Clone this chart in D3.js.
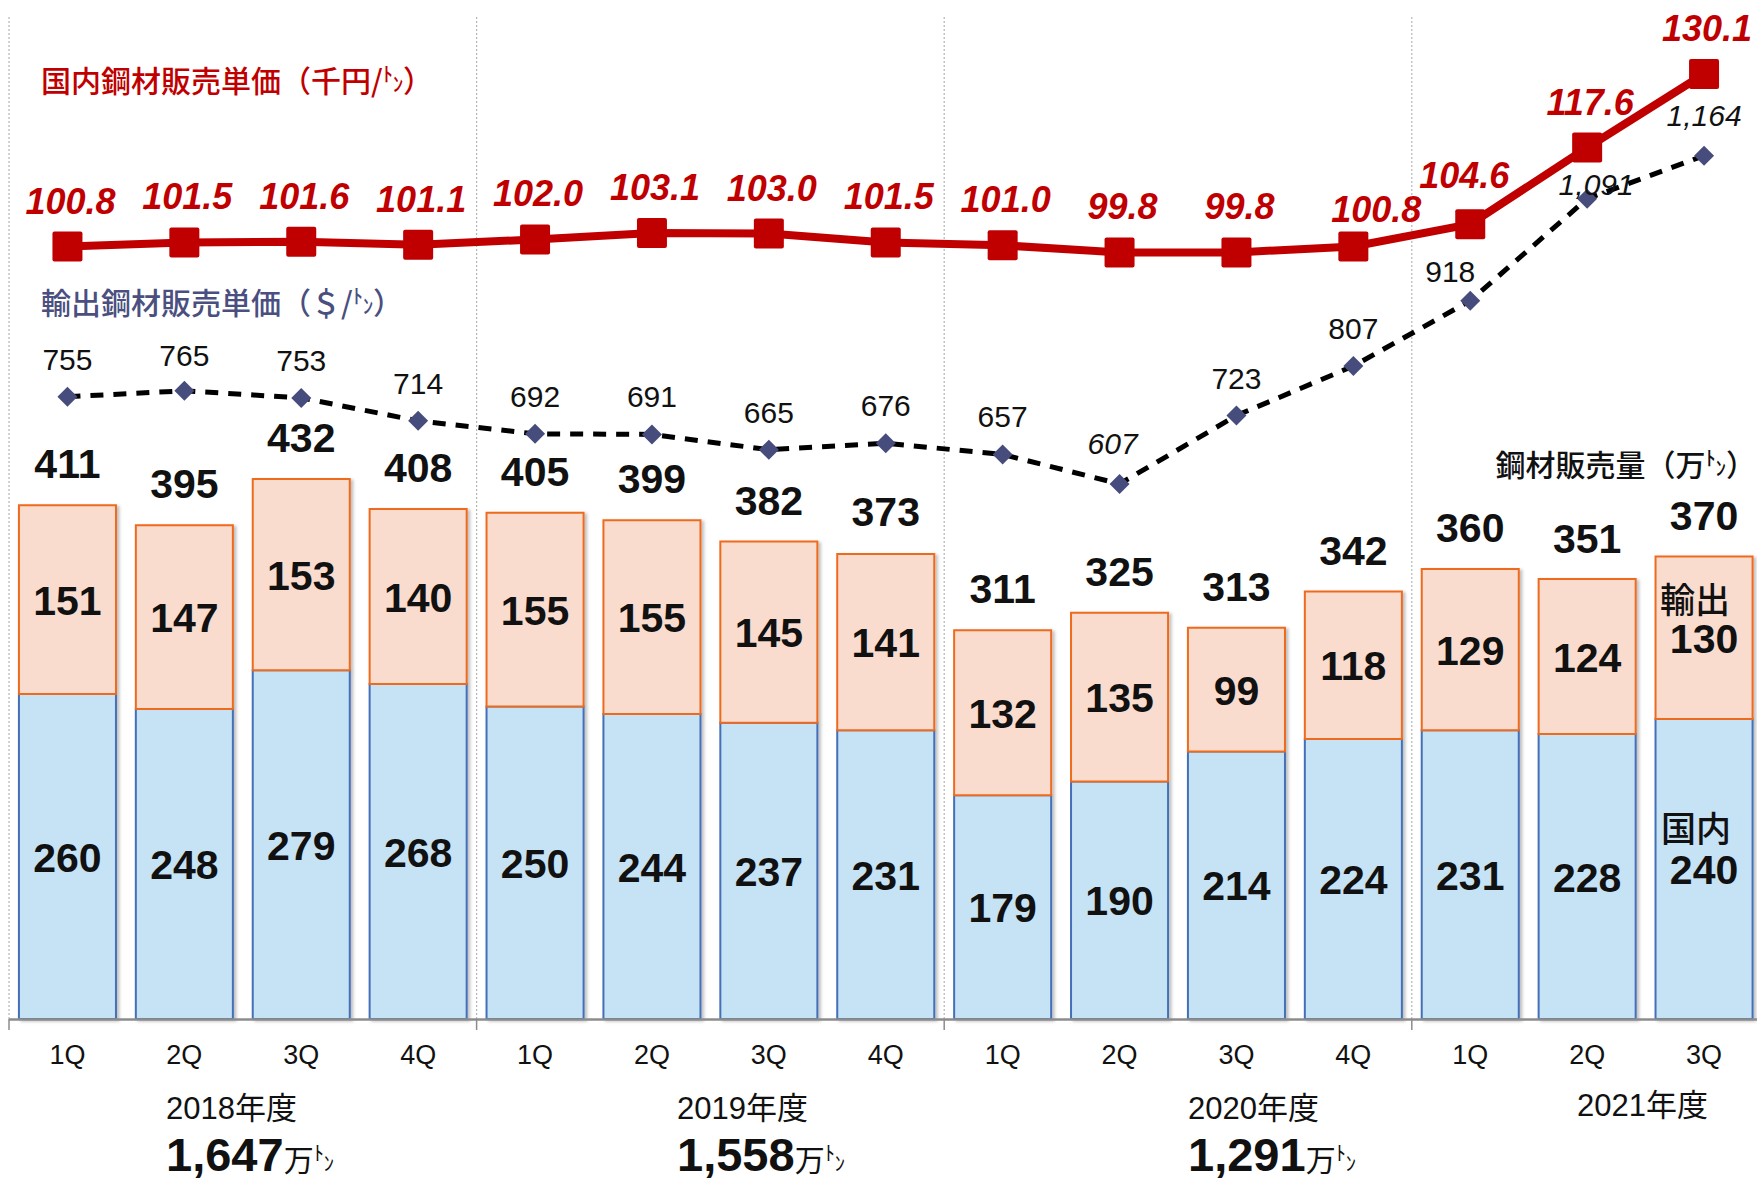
<!DOCTYPE html>
<html>
<head>
<meta charset="utf-8">
<script src="https://cdn.jsdelivr.net/npm/d3@7"></script>
<style>
  body { margin: 0; background: #fff; }
  svg { display: block; }
  .num { font-family: "Liberation Sans", Arial, "Noto Sans CJK JP", sans-serif; }
  .jp { font-family: "Noto Sans CJK JP", "Liberation Sans", sans-serif; }
</style>
</head>
<body>
<svg id="chart" width="1757" height="1180"></svg>
<script>
const quarters = ["1Q","2Q","3Q","4Q","1Q","2Q","3Q","4Q","1Q","2Q","3Q","4Q","1Q","2Q","3Q"];
const fiscalYears = ["2018年度", "2019年度", "2020年度", "2021年度"];
const yearTotals = [1647, 1558, 1291, null];

const domesticVol = [260, 248, 279, 268, 250, 244, 237, 231, 179, 190, 214, 224, 231, 228, 240];
const exportVol   = [151, 147, 153, 140, 155, 155, 145, 141, 132, 135, 99, 118, 129, 124, 130];
const totalVol    = [411, 395, 432, 408, 405, 399, 382, 373, 311, 325, 313, 342, 360, 351, 370];

const domesticPrice = [100.8, 101.5, 101.6, 101.1, 102.0, 103.1, 103.0, 101.5, 101.0, 99.8, 99.8, 100.8, 104.6, 117.6, 130.1];
const exportPrice   = [755, 765, 753, 714, 692, 691, 665, 676, 657, 607, 723, 807, 918, 1091, 1164];

const seriesNames = ["国内", "輸出"];

const svg = d3.select("#chart");
const idx = d3.range(quarters.length);

const x = d3.scaleBand().domain(idx).range([9, 9 + 15 * 116.9]).paddingInner(0.17).paddingOuter(0.085);
const cx = i => x(i) + x.bandwidth() / 2;
const step = x.step();
const xEdge = i => x(i) - x.paddingOuter() * step;   // left edge of slot i

const yBar = d3.scaleLinear().domain([0, 400]).range([1019, 519]);
const yRed = d3.scaleLinear().domain([100.8, 130.1]).range([246.5, 74]);
const yExp = d3.scaleLinear().domain([755, 1164]).range([396.7, 155.7]);

// drop shadow for bars
const defs = svg.append("defs");
const f = defs.append("filter").attr("id", "shadow").attr("x", "-10%").attr("y", "-10%").attr("width", "130%").attr("height", "130%");
f.append("feDropShadow").attr("dx", 2.5).attr("dy", 1.5).attr("stdDeviation", 1.5).attr("flood-color", "#000").attr("flood-opacity", 0.25);

// year separators (dotted)
const seps = [0, 4, 8, 12];
svg.selectAll(".sep").data(seps).join("line")
  .attr("x1", d => xEdge(d)).attr("x2", d => xEdge(d))
  .attr("y1", 17).attr("y2", 1019)
  .attr("stroke", "#b5b5b5").attr("stroke-width", 1.2).attr("stroke-dasharray", "2,2");

// bars
const barG = svg.append("g").attr("filter", "url(#shadow)");
barG.selectAll(".dom").data(idx).join("rect")
  .attr("x", i => x(i)).attr("width", x.bandwidth())
  .attr("y", i => yBar(domesticVol[i])).attr("height", i => yBar(0) - yBar(domesticVol[i]))
  .attr("fill", "#c6e2f5").attr("stroke", "#4470b8").attr("stroke-width", 2);
barG.selectAll(".exp").data(idx).join("rect")
  .attr("x", i => x(i)).attr("width", x.bandwidth())
  .attr("y", i => yBar(domesticVol[i] + exportVol[i])).attr("height", i => yBar(0) - yBar(exportVol[i]))
  .attr("fill", "#fadccf").attr("stroke", "#ee6a1f").attr("stroke-width", 2);

// axis
svg.append("line").attr("x1", 9).attr("x2", 1757).attr("y1", 1019.5).attr("y2", 1019.5)
  .attr("stroke", "#8c8c8c").attr("stroke-width", 2.5);
svg.selectAll(".tk").data(seps).join("line")
  .attr("x1", d => xEdge(d)).attr("x2", d => xEdge(d))
  .attr("y1", 1019).attr("y2", 1030)
  .attr("stroke", "#8c8c8c").attr("stroke-width", 1.5);

// quarter labels
svg.selectAll(".ql").data(idx).join("text").attr("class", "num")
  .attr("x", cx).attr("y", 1064).attr("text-anchor", "middle")
  .attr("font-size", 27).attr("fill", "#111").text(i => quarters[i]);

// small raised ﾄ + lowered ﾝ, ends back on the baseline
function addTon(sel, size) {
  sel.append("tspan").attr("font-size", size * 0.68).attr("dy", -size * 0.32).text("ﾄ");
  sel.append("tspan").attr("font-size", size * 0.68).attr("dy", size * 0.32).text("ﾝ");
  return sel;
}

// fiscal year labels
const yearLeft = [166, 677, 1188, 1577];
const yearBase = [1119, 1119, 1119, 1116];
fiscalYears.forEach((fy, k) => {
  svg.append("text").attr("class", "num").attr("x", yearLeft[k]).attr("y", yearBase[k])
    .attr("font-size", 31).attr("fill", "#111").text(fy);
  if (yearTotals[k] != null) {
    const t = svg.append("text").attr("class", "num").attr("x", yearLeft[k]).attr("y", 1171)
      .attr("fill", "#111");
    t.append("tspan").attr("font-size", 47).attr("font-weight", "bold").text(d3.format(",")(yearTotals[k]));
    t.append("tspan").attr("font-size", 30).text("万");
    addTon(t, 30);
  }
});

// bar labels
const lastI = quarters.length - 1;
svg.selectAll(".tl").data(idx).join("text").attr("class", "num")
  .attr("x", cx).attr("y", i => yBar(totalVol[i]) - 27).attr("text-anchor", "middle")
  .attr("font-size", 41).attr("font-weight", "bold").attr("fill", "#111").text(i => totalVol[i]);
svg.selectAll(".el").data(idx).join("text").attr("class", "num")
  .attr("x", cx).attr("y", i => yBar(domesticVol[i] + exportVol[i] / 2) + 15).attr("text-anchor", "middle")
  .attr("font-size", 41).attr("font-weight", "bold").attr("fill", "#111").text(i => exportVol[i]);
svg.selectAll(".dl").data(idx).join("text").attr("class", "num")
  .attr("x", cx).attr("y", i => yBar(domesticVol[i] / 2) + 15).attr("text-anchor", "middle")
  .attr("font-size", 41).attr("font-weight", "bold").attr("fill", "#111").text(i => domesticVol[i]);
// series names on last bar
svg.append("text").attr("class", "jp").attr("x", cx(lastI) - 9).attr("y", yBar(domesticVol[lastI] + exportVol[lastI] / 2) + 15 - 40)
  .attr("text-anchor", "middle").attr("font-size", 35).attr("font-weight", 500).attr("fill", "#111").text(seriesNames[1]);
svg.append("text").attr("class", "jp").attr("x", cx(lastI) - 8).attr("y", yBar(domesticVol[lastI] / 2) + 15 - 42)
  .attr("text-anchor", "middle").attr("font-size", 35).attr("font-weight", 500).attr("fill", "#111").text(seriesNames[0]);

// export price line (dashed)
const lineExp = d3.line().x(i => cx(i)).y(i => yExp(exportPrice[i]));
svg.append("path").datum(idx).attr("d", lineExp)
  .attr("fill", "none").attr("stroke", "#000").attr("stroke-width", 5).attr("stroke-dasharray", "13,10");
svg.selectAll(".dm").data(idx).join("path")
  .attr("d", d3.symbol(d3.symbolSquare, 200)())
  .attr("transform", i => `translate(${cx(i)},${yExp(exportPrice[i])}) rotate(45)`)
  .attr("fill", "#464c7c");

// domestic price line
const lineRed = d3.line().x(i => cx(i)).y(i => yRed(domesticPrice[i]));
svg.append("path").datum(idx).attr("d", lineRed)
  .attr("fill", "none").attr("stroke", "#c00000").attr("stroke-width", 8);
svg.selectAll(".sq").data(idx).join("rect")
  .attr("x", i => cx(i) - 15).attr("y", i => yRed(domesticPrice[i]) - 15)
  .attr("width", 30).attr("height", 30).attr("rx", 2).attr("fill", "#c00000");

// export price labels
const expItalic = new Set([9, 13, 14]);
const expOff = { 12: [-20, 19], 13: [9, 4], 9: [-7, 30], 14: [0, 30], 1: [0, 25] };
svg.selectAll(".epl").data(idx).join("text").attr("class", "num")
  .attr("x", i => cx(i) + (expOff[i] ? expOff[i][0] : 0))
  .attr("y", i => yExp(exportPrice[i]) - (expOff[i] ? expOff[i][1] : 27))
  .attr("text-anchor", "middle").attr("font-size", 30)
  .attr("font-style", i => expItalic.has(i) ? "italic" : "normal")
  .attr("fill", "#111").text(i => d3.format(",")(exportPrice[i]));

// domestic price labels
const redOff = { 11: [20, 25], 12: [-9, 36] };
svg.selectAll(".rpl").data(idx).join("text").attr("class", "num")
  .attr("x", i => cx(i) + 3 + (redOff[i] ? redOff[i][0] : 0))
  .attr("y", i => yRed(domesticPrice[i]) - (redOff[i] ? redOff[i][1] : 33))
  .attr("text-anchor", "middle").attr("font-size", 36).attr("font-weight", "bold").attr("font-style", "italic")
  .attr("fill", "#c00000").text(i => d3.format(".1f")(domesticPrice[i]));

// titles
const t1 = svg.append("text").attr("class", "jp").attr("x", 41).attr("y", 92)
  .attr("font-size", 30).attr("font-weight", 500).attr("fill", "#c00000");
t1.append("tspan").text("国内鋼材販売単価（千円/");
addTon(t1, 30);
t1.append("tspan").text("）");

const t2 = svg.append("text").attr("class", "jp").attr("x", 41).attr("y", 314)
  .attr("font-size", 30).attr("font-weight", 500).attr("fill", "#4a4f80");
t2.append("tspan").text("輸出鋼材販売単価（＄/");
addTon(t2, 30);
t2.append("tspan").text("）");

const t3 = svg.append("text").attr("class", "jp").attr("x", 1756).attr("y", 476)
  .attr("text-anchor", "end").attr("font-size", 30).attr("font-weight", 500).attr("fill", "#111");
t3.append("tspan").text("鋼材販売量（万");
addTon(t3, 30);
t3.append("tspan").text("）");
</script>
</body>
</html>
